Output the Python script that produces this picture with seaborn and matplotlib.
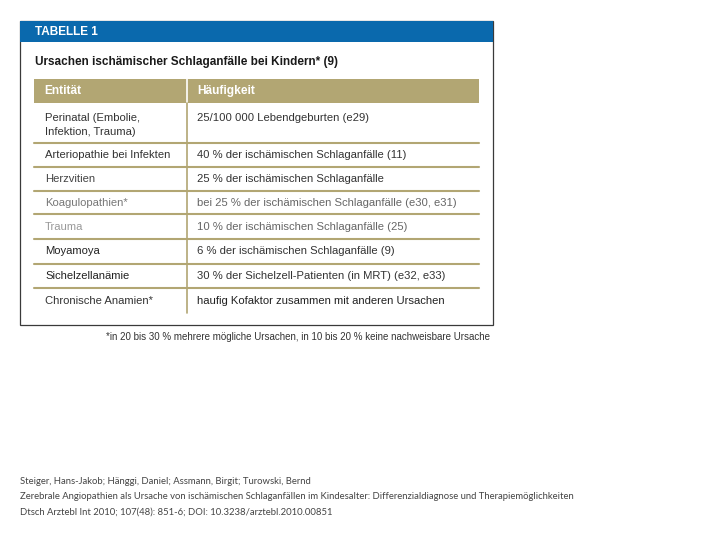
import matplotlib
matplotlib.use("Agg")
import matplotlib.pyplot as plt
import seaborn as sns
from matplotlib.patches import Rectangle

# ── Table content ──────────────────────────────────────────
title = "TABELLE 1"
subtitle = "Ursachen ischämischer Schlaganfälle bei Kindern* (9)"
col_headers = ["Entität", "Häufigkeit"]
entities = [
    "Perinatal (Embolie,\nInfektion, Trauma)",
    "Arteriopathie bei Infekten",
    "Herzvitien",
    "Koagulopathien*",
    "Trauma",
    "Moyamoya",
    "Sichelzellanämie",
    "Chronische Anamien*",
]
frequencies = [
    "25/100 000 Lebendgeburten (e29)",
    "40 % der ischämischen Schlaganfälle (11)",
    "25 % der ischämischen Schlaganfälle",
    "bei 25 % der ischämischen Schlaganfälle (e30, e31)",
    "10 % der ischämischen Schlaganfälle (25)",
    "6 % der ischämischen Schlaganfälle (9)",
    "30 % der Sichelzell-Patienten (in MRT) (e32, e33)",
    "haufig Kofaktor zusammen mit anderen Ursachen",
]
footnote = "*in 20 bis 30 % mehrere mögliche Ursachen, in 10 bis 20 % keine nachweisbare Ursache"
citation = [
    "Steiger, Hans-Jakob; Hänggi, Daniel; Assmann, Birgit; Turowski, Bernd",
    "Zerebrale Angiopathien als Ursache von ischämischen Schlaganfällen im Kindesalter: "
    "Differenzialdiagnose und Therapiemöglichkeiten",
    "Dtsch Arztebl Int 2010; 107(48): 851-6; DOI: 10.3238/arztebl.2010.00851",
]

# ── Styling / layout (pixel coordinates) ───────────────────
BLUE = "#0a69ad"
TAN = "#b2a673"
BORDER = "#3a3a3a"
entity_colors = ["#333", "#333", "#444", "#777", "#999", "#222", "#222", "#333"]
freq_colors = ["#333", "#333", "#333", "#666", "#666", "#333", "#333", "#222"]
row_edges = [103, 143, 167, 191, 214, 239, 264, 288, 313]
font_tab = "Liberation Sans"
fs_body = 8.1

sns.set_theme(style="white")
plt.rcParams["font.family"] = [font_tab, "DejaVu Sans"]

fig = plt.figure(figsize=(7.2, 5.4), dpi=100)
ax = fig.add_axes([0, 0, 1, 1])
ax.set_xlim(0, 720)
ax.set_ylim(540, 0)
ax.axis("off")

# outer box + blue title band
ax.add_patch(Rectangle((20, 21), 473, 304, facecolor="white",
                       edgecolor=BORDER, linewidth=0.9))
ax.add_patch(Rectangle((20, 21), 473, 21, facecolor=BLUE, edgecolor="none"))
ax.text(35, 32, title, color="white", fontsize=8.5, fontweight="bold",
        va="center", ha="left", fontstretch="condensed")
ax.text(35, 62, subtitle, color="#1a1a1a", fontsize=8.5, fontweight="bold",
        va="center", ha="left")

# header row
ax.add_patch(Rectangle((34, 79), 445, 24, facecolor=TAN, edgecolor="none"))
ax.plot([187, 187], [79, 103], color="white", linewidth=1.2)
ax.text(44, 91, col_headers[0], color="white", fontsize=8.6,
        fontweight="bold", va="center")
ax.text(197, 91, col_headers[1], color="white", fontsize=8.6,
        fontweight="bold", va="center")

# body rows
for i, (ent, freq) in enumerate(zip(entities, frequencies)):
    top, bot = row_edges[i], row_edges[i + 1]
    if "\n" in ent:
        ax.text(45, top + 22, ent, color=entity_colors[i], fontsize=fs_body,
                va="center", linespacing=1.4)
        ax.text(197, top + 15, freq, color=freq_colors[i], fontsize=fs_body,
                va="center")
    else:
        yc = (top + bot) / 2
        ax.text(45, yc, ent, color=entity_colors[i], fontsize=fs_body, va="center")
        ax.text(197, yc, freq, color=freq_colors[i], fontsize=fs_body, va="center")
    if i < len(entities) - 1:
        ax.plot([34, 479], [bot, bot], color=TAN, linewidth=1.5)

ax.plot([187, 187], [row_edges[0], row_edges[-1]], color=TAN, linewidth=1.2)

# footnote
ax.text(490, 337, footnote, color="#333", fontsize=7.0, ha="right", va="center")

# citation below
for k, line in enumerate(citation):
    ax.text(20, 481 + k * 15.5, line, color="#444", fontsize=6.8,
            family=["Lato", "DejaVu Sans"], va="center", ha="left")

fig.savefig("out.png", dpi=100)
